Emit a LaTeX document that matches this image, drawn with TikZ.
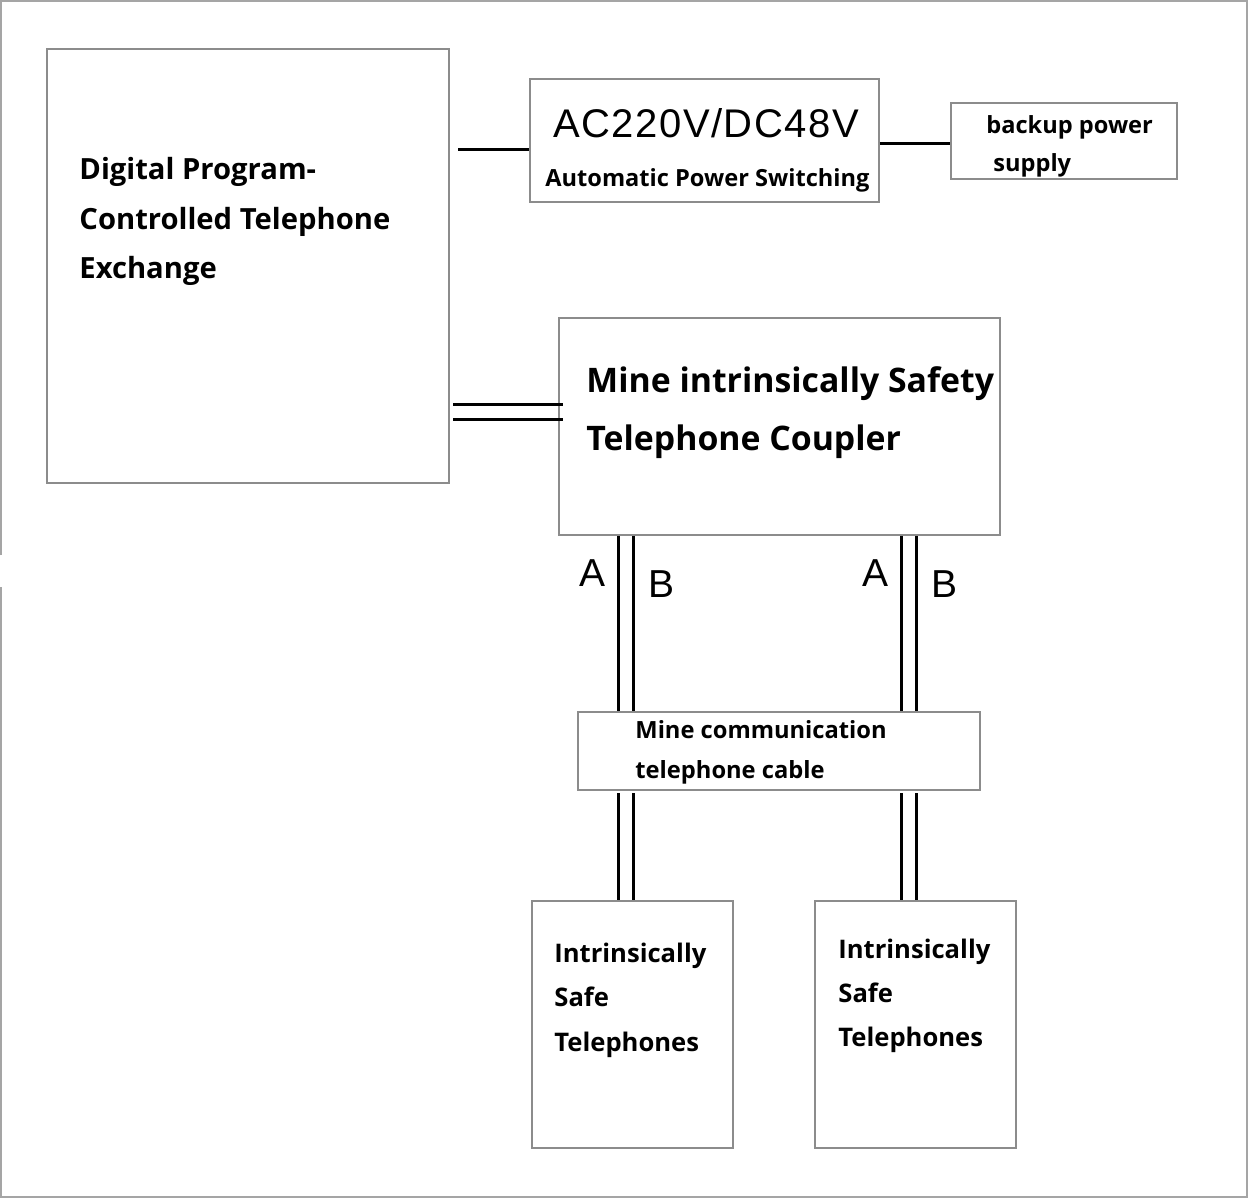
\documentclass[tikz,border=0pt]{standalone}
\usepackage{fontspec}
\setmainfont{Open Sans}
\newfontfamily\arialf{Liberation Sans}
\newfontfamily\arialwide[LetterSpace=3.75]{Liberation Sans}
\definecolor{boxgray}{RGB}{140,140,140}
\definecolor{framegray}{RGB}{165,165,165}
\begin{document}
\begin{tikzpicture}[x=0.5pt,y=-0.5pt,
  box/.style={draw=boxgray,line width=0.8pt,inner sep=0pt,fill=white},
  wire/.style={draw=black,line width=1.5pt},
  lbl/.style={inner sep=0pt,anchor=base west,font=\bfseries},
  ab/.style={inner sep=0pt,anchor=base west,font=\arialf\fontsize{19.5pt}{22pt}\selectfont}]
\useasboundingbox (0,0) rectangle (1249,1200);
\fill[white] (0,0) rectangle (1249,1200);
% outer frame
\draw[framegray,line width=1pt] (1,555) -- (1,1) -- (1247,1) -- (1247,1197) -- (1,1197) -- (1,587);
% boxes
\node[box,minimum width=201pt,minimum height=217pt] (ex) at (248,266) {};
\node[box,minimum width=174.5pt,minimum height=61.5pt] (pw) at (704.5,140.5) {};
\node[box,minimum width=113pt,minimum height=38pt] (bk) at (1064,141) {};
\node[box,minimum width=220.5pt,minimum height=108.5pt] (cp) at (779.5,426.5) {};
\node[box,minimum width=201pt,minimum height=39pt] (cb) at (779,751) {};
\node[box,minimum width=100.5pt,minimum height=123.5pt] (t1) at (632.5,1024.5) {};
\node[box,minimum width=100.5pt,minimum height=123.5pt] (t2) at (915.5,1024.5) {};
% texts
\node[lbl,font=\bfseries\fontsize{14.6pt}{18pt}\selectfont] (ex1) at (79,179) {Digital Program-};
\node[lbl,font=\bfseries\fontsize{14.6pt}{18pt}\selectfont] (ex2) at (79,229) {Controlled Telephone};
\node[lbl,font=\bfseries\fontsize{14.6pt}{18pt}\selectfont] (ex3) at (79,278) {Exchange};
\node[inner sep=0pt,anchor=base west,font=\arialwide\fontsize{20pt}{24pt}\selectfont] (pw1) at (553,137) {AC220V/DC48V};
\node[lbl,font=\bfseries\fontsize{11.8pt}{14pt}\selectfont] (pw2) at (545,186) {Automatic Power Switching};
\node[lbl,font=\bfseries\fontsize{11.8pt}{14pt}\selectfont] (bk1) at (986,133) {backup power};
\node[lbl,font=\bfseries\fontsize{11.8pt}{14pt}\selectfont] (bk2) at (993,171) {supply};
\node[lbl,font=\bfseries\fontsize{16.9pt}{20pt}\selectfont] (cp1) at (586,392) {Mine intrinsically Safety};
\node[lbl,font=\bfseries\fontsize{16.9pt}{20pt}\selectfont] (cp2) at (586,450) {Telephone Coupler};
\node[lbl,font=\bfseries\fontsize{11.85pt}{14pt}\selectfont] (cb1) at (635,738) {Mine communication};
\node[lbl,font=\bfseries\fontsize{11.85pt}{14pt}\selectfont] (cb2) at (635,778) {telephone cable};
\node[lbl,font=\bfseries\fontsize{12.8pt}{16pt}\selectfont] (ta1) at (554,962) {Intrinsically};
\node[lbl,font=\bfseries\fontsize{12.8pt}{16pt}\selectfont] (ta2) at (554,1006) {Safe};
\node[lbl,font=\bfseries\fontsize{12.8pt}{16pt}\selectfont] (ta3) at (554,1051) {Telephones};
\node[lbl,font=\bfseries\fontsize{12.8pt}{16pt}\selectfont] (tb1) at (838,958) {Intrinsically};
\node[lbl,font=\bfseries\fontsize{12.8pt}{16pt}\selectfont] (tb2) at (838,1002) {Safe};
\node[lbl,font=\bfseries\fontsize{12.8pt}{16pt}\selectfont] (tb3) at (838,1046) {Telephones};
\node[ab] (la1) at (579,586) {A};
\node[ab] (lb1) at (648,597) {B};
\node[ab] (la2) at (862,586) {A};
\node[ab] (lb2) at (931,597) {B};
% connectors
\coordinate (e1) at (458,149);
\draw[wire] (e1) -- (e1 -| pw.west);
\draw[wire] ([yshift=-1.5pt]pw.east) -- ([yshift=-1.5pt]pw.east -| bk.west);
\coordinate (c1) at (453,404);
\coordinate (c2) at (453,419);
\draw[wire,shorten >=-2.5pt] (c1) -- (c1 -| cp.west);
\draw[wire,shorten >=-2.5pt] (c2) -- (c2 -| cp.west);
\foreach \xx in {618,633,901,916}{
  \draw[wire] (cp.south -| \xx,0) -- (cb.north -| \xx,0);
}
\foreach \xx in {618,633}{
  \draw[wire] (\xx,793) -- (t1.north -| \xx,0);
}
\foreach \xx in {901,916}{
  \draw[wire] (\xx,793) -- (t2.north -| \xx,0);
}
\end{tikzpicture}
\end{document}
